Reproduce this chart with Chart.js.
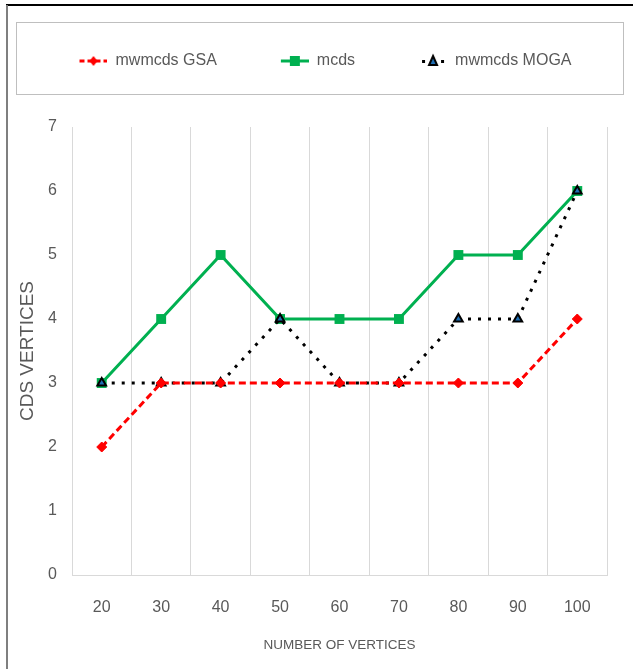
<!DOCTYPE html>
<html>
<head>
<meta charset="utf-8">
<script src="https://cdn.jsdelivr.net/npm/chart.js@4.4.1/dist/chart.umd.min.js"></script>
<style>
  html, body { margin: 0; padding: 0; background: #fff; }
  #wrap { width: 633px; height: 669px; }
</style>
</head>
<body>
<div id="wrap"><canvas id="cdsChart" width="633" height="669"></canvas></div>
<script>
// values
var labels = ['20', '30', '40', '50', '60', '70', '80', '90', '100'];
var gsa = [2, 3, 3, 3, 3, 3, 3, 3, 4];
var mcds = [3, 4, 5, 4, 4, 4, 5, 5, 6];
var moga = [3, 3, 3, 4, 3, 3, 4, 4, 6];
var seriesNames = ['mwmcds GSA', 'mcds', 'mwmcds MOGA'];

var SANS = '"Liberation Sans", Arial, sans-serif';
var GREY = '#595959';

// small pictures for the legend: line + marker (blank part on the left widens the gap)
function legendIcon(kind) {
	var c = document.createElement('canvas');
	c.width = 72; c.height = 16;
	var g = c.getContext('2d');
	var y = 8;
	if (kind == 'gsa') {
		g.strokeStyle = '#FF0000'; g.lineWidth = 3; g.setLineDash([5, 3]);
		g.beginPath(); g.moveTo(44, y); g.lineTo(72, y); g.stroke();
		g.fillStyle = '#FF0000';
		g.beginPath(); g.moveTo(58, y - 5); g.lineTo(62, y); g.lineTo(58, y + 5); g.lineTo(54, y); g.closePath(); g.fill();
	} else if (kind == 'mcds') {
		g.strokeStyle = '#00B050'; g.lineWidth = 3;
		g.beginPath(); g.moveTo(44, y); g.lineTo(72, y); g.stroke();
		g.fillStyle = '#00B050'; g.fillRect(53, y - 5, 10, 10);
	} else {
		g.fillStyle = '#000';
		g.fillRect(47, y - 1, 3, 3);
		g.fillRect(66, y - 1, 3, 3);
		g.fillStyle = '#1F6FB5'; g.strokeStyle = '#000'; g.lineWidth = 2;
		g.beginPath(); g.moveTo(58, y - 5); g.lineTo(62, y + 4); g.lineTo(54, y + 4); g.closePath(); g.fill(); g.stroke();
	}
	return c;
}
var icons = [legendIcon('gsa'), legendIcon('mcds'), legendIcon('moga')];

var framePlugin = {
	id: 'frame',
	beforeDraw: function(chart) {
		var ctx = chart.ctx;
		ctx.save();
		ctx.fillStyle = '#fff';
		ctx.fillRect(0, 0, chart.width, chart.height);
		// outer border
		ctx.strokeStyle = '#000'; ctx.lineWidth = 2;
		ctx.beginPath(); ctx.moveTo(6, 5); ctx.lineTo(chart.width, 5); ctx.stroke();
		ctx.strokeStyle = '#7F7F7F';
		ctx.beginPath(); ctx.moveTo(7, 5); ctx.lineTo(7, chart.height); ctx.stroke();
		// legend box
		ctx.strokeStyle = '#BFBFBF'; ctx.lineWidth = 1;
		ctx.strokeRect(16.5, 22.5, 607, 72);
		ctx.restore();
	}
};

var ctx = document.getElementById('cdsChart');
var cdsChart = new Chart(ctx, {
	type: 'line',
	data: {
		labels: labels,
		datasets: [{
			label: seriesNames[0],
			data: gsa,
			borderColor: '#FF0000',
			backgroundColor: '#FF0000',
			borderWidth: 3,
			borderDash: [7, 4],
			pointStyle: 'rectRot',
			pointRadius: 5,
			pointBorderWidth: 1,
			order: 0
		}, {
			label: seriesNames[1],
			data: mcds,
			borderColor: '#00B050',
			backgroundColor: '#00B050',
			borderWidth: 3,
			pointStyle: 'rect',
			pointRadius: 7,
			pointBorderWidth: 0,
			order: 2
		}, {
			label: seriesNames[2],
			data: moga,
			borderColor: '#000000',
			backgroundColor: '#1F6FB5',
			borderWidth: 3,
			borderDash: [3, 7],
			pointStyle: 'triangle',
			pointRadius: 5,
			pointBorderColor: '#000',
			pointBorderWidth: 2,
			order: 1
		}]
	},
	options: {
		responsive: false,
		animation: false,
		layout: { padding: { left: 0, right: 26, top: 33, bottom: 0 } },
		plugins: {
			tooltip: { enabled: false },
			legend: {
				position: 'top',
				labels: {
					usePointStyle: true,
					pointStyleWidth: 72,
					padding: 20,
					color: GREY,
					font: { family: SANS, size: 16 },
					generateLabels: function(chart) {
						return chart.data.datasets.map(function(ds, i) {
							return { text: ds.label, pointStyle: icons[i], fontColor: GREY, lineWidth: 0, hidden: false, datasetIndex: i };
						});
					}
				}
			},
			subtitle: {
				display: true,
				text: '',
				weight: 500,
				font: { size: 10, lineHeight: 1 },
				padding: { top: 0, bottom: 38 }
			}
		},
		scales: {
			x: {
				offset: true,
				grid: { display: true, offset: true, color: '#D9D9D9', lineWidth: 1, drawTicks: false },
				border: { display: true, color: '#D9D9D9' },
				ticks: { color: GREY, padding: 23, font: { family: SANS, size: 16 } },
				title: {
					display: true,
					text: 'NUMBER OF VERTICES',
					color: GREY,
					font: { family: SANS, size: 13.5 },
					padding: { top: 0, bottom: 16 }
				},
				afterFit: function(scale) { scale.height = 94; }
			},
			y: {
				min: 0,
				max: 7,
				ticks: { stepSize: 1, color: GREY, padding: 15, font: { family: SANS, size: 16 } },
				grid: { display: false, drawTicks: false },
				border: { display: false },
				title: {
					display: true,
					text: 'CDS VERTICES',
					color: GREY,
					font: { family: SANS, size: 19 },
					padding: { top: 16, bottom: 0 }
				},
				afterFit: function(scale) { scale.width = 72; }
			}
		}
	},
	plugins: [framePlugin]
});
</script>
</body>
</html>
